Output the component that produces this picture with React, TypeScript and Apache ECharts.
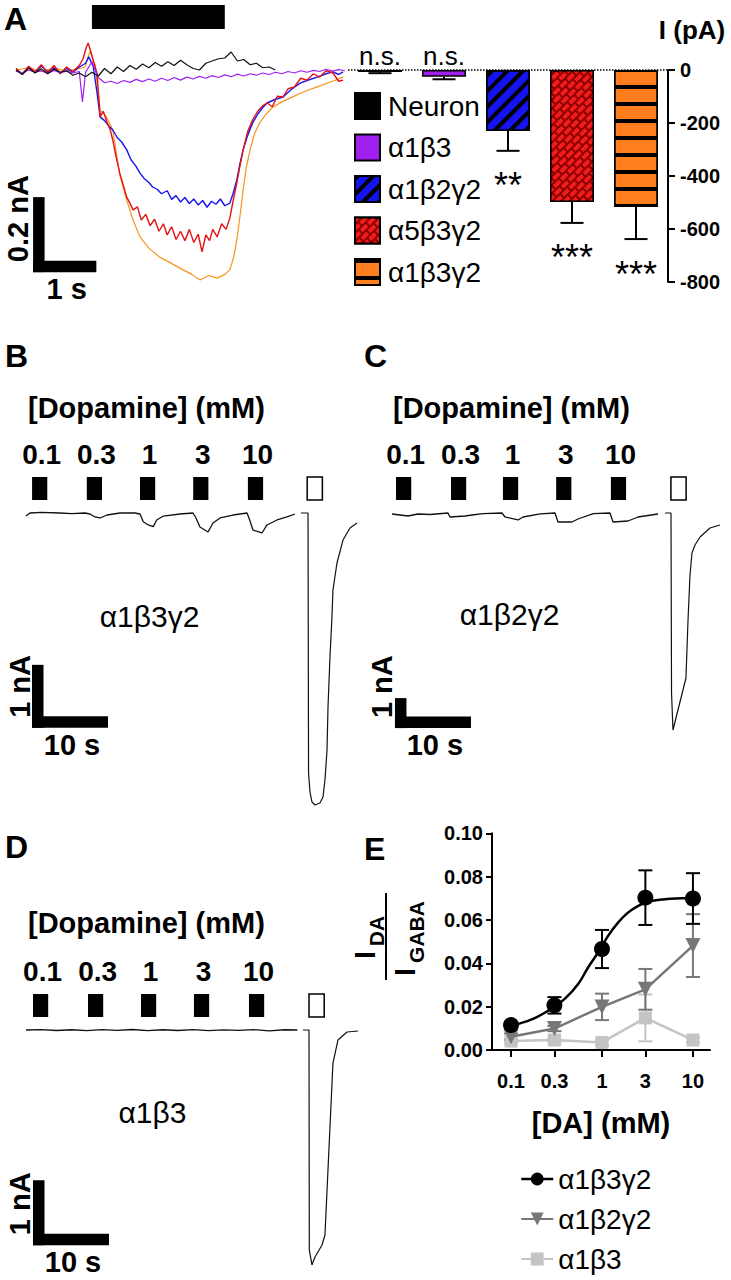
import React, { useEffect, useRef } from "react";
import * as echarts from "echarts";

const FONT = "'Liberation Sans', Arial, Helvetica, sans-serif";

// ---------- Panel A: example traces [time (s), current (pA)] ----------
const traceNeuron = [[0,0],[0.1,-12],[0.2,5],[0.3,-8],[0.4,3],[0.5,-10],[0.6,2],[0.7,-6],[0.8,-2],[0.9,-14],[1.0,-8],[1.1,-18],[1.2,-6],[1.3,-16],[1.4,4],[1.5,-10],[1.6,8],[1.7,-4],[1.8,12],[1.9,2],[2.0,16],[2.1,6],[2.2,20],[2.3,10],[2.4,22],[2.5,12],[2.6,26],[2.7,14],[2.8,4],[2.9,0],[3.0,18],[3.1,24],[3.2,30],[3.3,32],[3.4,48],[3.5,24],[3.6,28],[3.7,14],[3.8,18],[3.9,6],[4.0,8],[4.1,0]];
const traceA1B3 = [[0,-3],[0.1,-8],[0.2,0],[0.3,-6],[0.4,-2],[0.5,-9],[0.6,-1],[0.7,-7],[0.8,-3],[0.9,-8],[1.0,-4],[1.05,-85],[1.1,-6],[1.2,22],[1.3,-20],[1.4,-34],[1.5,-30],[1.6,-36],[1.7,-28],[1.8,-33],[1.9,-25],[2.0,-31],[2.1,-24],[2.2,-30],[2.3,-22],[2.4,-28],[2.5,-20],[2.6,-27],[2.7,-19],[2.8,-24],[2.9,-17],[3.0,-22],[3.1,-15],[3.2,-20],[3.3,-13],[3.4,-18],[3.5,-11],[3.6,-16],[3.7,-10],[3.8,-14],[3.9,-8],[4.0,-12],[4.1,-6],[4.2,-10],[4.3,-4],[4.4,-8],[4.5,-2],[4.6,-6],[4.7,-1],[4.8,-4],[4.9,2],[5.0,-3],[5.1,1],[5.2,-2]];
const traceA1B2G2 = [[0,0],[0.1,-10],[0.2,8],[0.3,-6],[0.4,10],[0.5,-4],[0.6,6],[0.7,-8],[0.8,4],[0.9,-6],[1.0,8],[1.1,18],[1.15,35],[1.22,10],[1.28,-60],[1.33,-125],[1.4,-135],[1.47,-150],[1.53,-160],[1.6,-180],[1.67,-192],[1.75,-213],[1.82,-240],[1.89,-255],[1.96,-275],[2.03,-290],[2.1,-300],[2.16,-312],[2.23,-318],[2.3,-330],[2.39,-322],[2.46,-345],[2.53,-335],[2.6,-352],[2.67,-340],[2.74,-356],[2.81,-344],[2.88,-360],[2.95,-348],[3.02,-366],[3.09,-350],[3.16,-358],[3.23,-344],[3.3,-362],[3.38,-355],[3.43,-330],[3.49,-293],[3.54,-250],[3.59,-213],[3.66,-175],[3.74,-141],[3.82,-118],[3.9,-100],[3.97,-88],[4.1,-78],[4.22,-72],[4.35,-52],[4.49,-35],[4.6,-28],[4.76,-19],[4.9,-10],[5.01,-5],[5.1,-12],[5.17,-5]];
const traceA5B3G2 = [[0,5],[0.1,-12],[0.2,10],[0.3,-5],[0.4,14],[0.5,-8],[0.6,12],[0.7,-10],[0.8,8],[0.9,-4],[1.0,12],[1.06,30],[1.11,60],[1.14,72],[1.18,50],[1.23,20],[1.28,-8],[1.33,-125],[1.38,-110],[1.44,-140],[1.49,-160],[1.53,-187],[1.58,-230],[1.64,-275],[1.7,-310],[1.75,-339],[1.8,-355],[1.85,-373],[1.92,-365],[1.98,-400],[2.05,-385],[2.12,-415],[2.19,-398],[2.26,-430],[2.33,-410],[2.39,-440],[2.46,-418],[2.53,-452],[2.6,-430],[2.67,-455],[2.74,-425],[2.81,-460],[2.88,-438],[2.94,-485],[3.0,-440],[3.06,-455],[3.11,-425],[3.18,-445],[3.25,-410],[3.32,-425],[3.38,-395],[3.43,-350],[3.49,-301],[3.54,-255],[3.59,-213],[3.66,-165],[3.74,-133],[3.82,-110],[3.9,-95],[3.97,-88],[4.05,-98],[4.13,-70],[4.22,-72],[4.3,-50],[4.4,-45],[4.5,-22],[4.6,-27],[4.7,-10],[4.8,-19],[4.9,-2],[5.01,-8],[5.1,-30],[5.17,-27]];
const traceA1B3G2 = [[0,0],[0.2,6],[0.4,-4],[0.6,5],[0.8,-3],[1.0,4],[1.09,8],[1.17,50],[1.25,13],[1.33,-107],[1.43,-125],[1.53,-160],[1.64,-280],[1.75,-347],[1.85,-400],[1.96,-445],[2.1,-475],[2.27,-499],[2.45,-515],[2.64,-533],[2.78,-545],[2.91,-560],[3.05,-548],[3.18,-555],[3.3,-545],[3.38,-533],[3.44,-500],[3.49,-453],[3.54,-390],[3.59,-320],[3.64,-260],[3.7,-213],[3.77,-170],[3.85,-141],[3.95,-118],[4.06,-99],[4.2,-85],[4.33,-75],[4.55,-58],[4.76,-45],[5.0,-30],[5.17,-19]];
const applicationA = [[1.2, 3.3]];
const scaleA = [[0.27, -539, 1, 200]]; // corner t, corner I, 1 s, 200 pA

// ---------- Panel A: mean peak currents ----------
const categories = ["Neuron", "α1β3", "α1β2γ2", "α5β3γ2", "α1β3γ2"];
const barMeans = [-8, -25, -230, -498, -517];
const barSEM = [4, 10, 75, 79, 121];
const barSig = ["n.s.", "n.s.", "**", "***", "***"];
const barTicks = [0, -200, -400, -600, -800];

// ---------- Panels B-D: dopamine applications [time (s), current (nA)] ----------
const concLabels = ["0.1", "0.3", "1", "3", "10"];
const blocksB = [0.8, 8.0, 15.0, 22.0, 29.2];
const gabaB = 37.0;
const blocksC = [0.53, 7.76, 14.6, 21.6, 28.8];
const gabaC = 36.7;
const blocksD = [0.92, 8.16, 15.13, 22.1, 29.34];
const gabaD = 37.24;
const pulseDuration = 2;

const baseB = [[0,-0.048],[0.53,0],[2.0,0.01],[4.47,0],[6.0,-0.01],[7.76,0],[8.42,-0.016],[9.08,-0.063],[9.74,-0.079],[10.66,-0.032],[12.37,0],[14.34,0],[15.0,-0.016],[15.43,-0.138],[16.09,-0.19],[16.75,-0.217],[17.2,-0.111],[18.07,-0.048],[20.26,-0.016],[21.97,0],[22.37,-0.079],[22.89,-0.222],[23.95,-0.302],[24.61,-0.159],[25.53,-0.079],[27.24,-0.032],[29.08,0],[29.34,-0.079],[29.87,-0.27],[31.05,-0.317],[31.71,-0.19],[33.03,-0.111],[34.34,-0.063],[35.39,-0.016]];
const gabaTraceB = [[36.18,0],[37.11,0],[37.18,-4.127],[37.37,-4.429],[37.63,-4.587],[38.03,-4.635],[38.68,-4.603],[39.08,-4.508],[39.34,-4.238],[39.61,-3.762],[39.74,-3.079],[40.0,-2.286],[40.26,-1.651],[40.39,-1.222],[40.92,-0.794],[41.71,-0.429],[42.63,-0.238],[43.55,-0.159]];
const baseC = [[0,-0.033],[2.11,-0.1],[3.42,-0.033],[5.0,-0.05],[7.37,0],[7.63,-0.133],[9.61,-0.1],[10.53,-0.067],[12.0,-0.02],[14.47,0],[14.87,-0.133],[16.58,-0.233],[17.24,-0.133],[19.5,-0.03],[21.45,0],[21.84,-0.3],[23.68,-0.3],[24.47,-0.2],[26.5,-0.02],[28.68,0],[29.08,-0.3],[31.05,-0.267],[32.37,-0.133],[35.0,-0.033]];
const gabaTraceC = [[35.92,0],[36.71,0],[36.78,-6.0],[36.97,-7.233],[38.68,-5.5],[38.95,-3.567],[39.21,-2.067],[39.47,-1.333],[39.87,-1.067],[40.53,-0.8],[41.84,-0.5],[43.16,-0.4]];
const baseD = [[0,0],[2,0.005],[4,-0.008],[6,0.004],[8,-0.01],[10,0.006],[12,-0.006],[14,0.008],[16,-0.01],[18,0.004],[20,-0.008],[22,0.006],[24,-0.01],[26,0.003],[28,-0.006],[30,0.005],[32,-0.012],[34,0.004],[35.7,0]];
const gabaTraceD = [[36.45,0],[37.24,0],[37.28,-3.385],[37.63,-3.615],[38.03,-3.492],[38.95,-3.308],[39.34,-3.154],[40.39,-0.508],[41.05,-0.154],[42.24,-0.031],[43.68,-0.015]];
const scaleB = [[0.79, -3.41, 10, 1]];
const scaleC = [[0.39, -7.17, 10, 1]];
const scaleD = [[0.92, -3.31, 10, 1]];

// ---------- Panel E: concentration-response ----------
const DA = [0.1, 0.3, 1, 3, 10];
const eNames = ["E α1β3γ2", "E α1β2γ2", "E α1β3"];
const eLabels = ["α1β3γ2", "α1β2γ2", "α1β3"];
const ratioA1B3G2 = [0.0115, 0.0206, 0.0466, 0.0703, 0.0699];
const semA1B3G2 = [0.0015, 0.0038, 0.0088, 0.0126, 0.0117];
const ratioA1B2G2 = [0.0061, 0.0099, 0.0199, 0.028, 0.0482];
const semA1B2G2 = [0.0015, 0.0012, 0.0061, 0.0094, 0.0145];
const ratioA1B3 = [0.0041, 0.0046, 0.0035, 0.0148, 0.0046];
const semA1B3 = [0.001, 0.001, 0.001, 0.0108, 0.001];
const fitA1B3G2 = [[0.099,0.0111],[0.169,0.0141],[0.28,0.0191],[0.392,0.0237],[0.55,0.0306],[0.706,0.0382],[0.91,0.0451],[1.172,0.0528],[1.51,0.0589],[1.945,0.0635],[2.506,0.0665],[3.228,0.0685],[4.92,0.0696],[7.52,0.07],[10.07,0.0702]];

const traceColors = ["#111111", "#a020f0", "#1515f2", "#e41212", "#f7941d"];
const barColors = ["#000000", "#a020f0", "#1414f0", "#8e0000", "#ff7f1f"];

const txt = (size: number, bold = false) => ({ fontSize: size, fontWeight: bold ? "bold" : "normal", fontFamily: FONT, fill: "#000" });

function hiddenValueAxis(gridIndex: number, min: number, max: number) {
  return { type: "value", gridIndex, min, max, show: false, splitLine: { show: false } };
}

function traceSeries(name: string, idx: number, data: number[][], color: string, width = 1.2) {
  return {
    name, type: "line", xAxisIndex: idx, yAxisIndex: idx, data, showSymbol: false, symbol: "none",
    silent: true, lineStyle: { color, width }, z: 3,
  };
}

function blockSeries(idx: number, starts: number[], gaba: number) {
  const data = starts.map((s, i) => [s, s + pulseDuration, i]).concat([[gaba, gaba + pulseDuration, -1]]);
  return {
    type: "custom", xAxisIndex: idx, yAxisIndex: idx, silent: true, data,
    renderItem: (params: any, api: any) => {
      const a = api.coord([api.value(0), 0]);
      const b = api.coord([api.value(1), 0]);
      const k = api.value(2);
      const children: any[] = [{
        type: "rect",
        shape: { x: a[0], y: a[1] - 36, width: b[0] - a[0], height: 23 },
        style: k < 0 ? { fill: "#fff", stroke: "#000", lineWidth: 1.5 } : { fill: "#000" },
      }];
      if (k >= 0) {
        children.push({
          type: "text", x: (a[0] + b[0]) / 2 + 2, y: a[1] - 59,
          style: { ...txt(28, true), text: concLabels[k], align: "center", verticalAlign: "middle" },
        });
      }
      return { type: "group", children };
    },
  };
}

function scaleBarSeries(idx: number, data: number[][], vLabel: string, hLabel: string, dx: number) {
  return {
    type: "custom", xAxisIndex: idx, yAxisIndex: idx, silent: true, data,
    renderItem: (params: any, api: any) => {
      const c = api.coord([api.value(0), api.value(1)]);
      const h = api.coord([api.value(0) + api.value(2), api.value(1)]);
      const v = api.coord([api.value(0), api.value(1) + api.value(3)]);
      const th = 11.5;
      return {
        type: "group",
        children: [
          { type: "rect", shape: { x: c[0], y: v[1], width: th, height: c[1] - v[1] }, style: { fill: "#000" } },
          { type: "rect", shape: { x: c[0], y: c[1] - th, width: h[0] - c[0], height: th }, style: { fill: "#000" } },
          { type: "text", x: c[0] + dx, y: c[1] - 10, rotation: Math.PI / 2,
            style: { ...txt(29, true), text: vLabel, align: "left", verticalAlign: "middle" } },
          { type: "text", x: (c[0] + h[0]) / 2 + 2, y: c[1] + 17,
            style: { ...txt(29, true), text: hLabel, align: "center", verticalAlign: "middle" } },
        ],
      };
    },
  };
}

function errorSeriesE(name: string, values: number[], sems: number[], color: string) {
  return {
    name: name + " sem", type: "custom", xAxisIndex: 5, yAxisIndex: 5, silent: true, z: 4,
    data: DA.map((d, i) => [d, values[i] - sems[i], values[i] + sems[i]]),
    renderItem: (params: any, api: any) => {
      const lo = api.coord([api.value(0), api.value(1)]);
      const hi = api.coord([api.value(0), api.value(2)]);
      const st = { stroke: color, lineWidth: 2 };
      return {
        type: "group",
        children: [
          { type: "line", shape: { x1: lo[0], y1: lo[1], x2: hi[0], y2: hi[1] }, style: st },
          { type: "line", shape: { x1: lo[0] - 7, y1: lo[1], x2: lo[0] + 7, y2: lo[1] }, style: st },
          { type: "line", shape: { x1: hi[0] - 7, y1: hi[1], x2: hi[0] + 7, y2: hi[1] }, style: st },
        ],
      };
    },
  };
}

const decals: any[] = [
  null,
  null,
  { symbol: "rect", symbolSize: 1, symbolKeepAspect: false, color: "#000", dashArrayX: [1, 0], dashArrayY: [3.5, 7], rotation: -Math.PI / 4 },
  { symbol: "rect", symbolSize: 1, symbolKeepAspect: false, color: "#f21c1c", dashArrayX: [[8, 2], [3, 2, 5, 0]], dashArrayY: [4, 1.5], rotation: -Math.PI / 4 },
  { symbol: "rect", symbolSize: 1, symbolKeepAspect: false, color: "#000", dashArrayX: [1, 0], dashArrayY: [4, 13], rotation: 0 },
];

function buildOption() {
  const barSeries = categories.map((c, i) => ({
    name: c, type: "bar", xAxisIndex: 1, yAxisIndex: 1, barWidth: 44, barGap: "-100%",
    data: categories.map((_, j) => (j === i ? barMeans[i] : "-")),
    itemStyle: { color: barColors[i], borderColor: "#000", borderWidth: 1.5, ...(decals[i] ? { decal: decals[i] } : {}) },
    silent: true, z: 2,
    ...(i === 0 ? {
      markLine: {
        silent: true, symbol: ["none", "none"], label: { show: false },
        lineStyle: { type: "dotted", color: "#000", width: 1.5 },
        data: [{ yAxis: 0 }], z: 5,
      },
    } : {}),
  }));

  const barErrors = {
    type: "custom", xAxisIndex: 1, yAxisIndex: 1, silent: true, z: 4,
    data: categories.map((_, i) => [i, barMeans[i], barSEM[i]]),
    renderItem: (params: any, api: any) => {
      const m = api.coord([api.value(0), api.value(1)]);
      const e = api.coord([api.value(0), api.value(1) - api.value(2)]);
      const z0 = api.coord([api.value(0), 0]);
      const st = { stroke: "#000", lineWidth: 2 };
      const sig = barSig[params.dataIndex];
      const ns = sig === "n.s.";
      return {
        type: "group",
        children: [
          { type: "line", shape: { x1: m[0], y1: m[1], x2: e[0], y2: e[1] }, style: st },
          { type: "line", shape: { x1: e[0] - 11.5, y1: e[1], x2: e[0] + 11.5, y2: e[1] }, style: st },
          { type: "text", x: m[0], y: ns ? z0[1] - 14 : e[1] + 35,
            style: { ...txt(ns ? 26 : 36), text: sig, align: "center", verticalAlign: "middle" } },
        ],
      };
    },
  };

  return {
    animation: false,
    backgroundColor: "#fff",
    grid: [
      { left: 16, top: 2.5, width: 329, height: 292.5 },      // A traces
      { left: 348, top: 70, width: 320, height: 212 },        // A bars
      { left: 26, top: 450, width: 339.7, height: 365.4 },    // B
      { left: 392, top: 453, width: 334.4, height: 288 },     // C
      { left: 26, top: 965, width: 339.7, height: 312 },      // D
      { left: 492, top: 833.3, width: 218, height: 216.7 },   // E
    ],
    xAxis: [
      hiddenValueAxis(0, 0, 5.2),
      { type: "category", gridIndex: 1, data: categories, show: false },
      hiddenValueAxis(2, 0, 44.7),
      hiddenValueAxis(3, 0, 44),
      hiddenValueAxis(4, 0, 44.7),
      {
        type: "log", gridIndex: 5, logBase: 10, min: 0.0618, max: 15.4,
        name: "[DA] (mM)", nameLocation: "middle", nameGap: 58,
        nameTextStyle: { fontSize: 29, fontWeight: "bold", fontFamily: FONT, color: "#000" },
        axisLine: { show: true, onZero: false, lineStyle: { color: "#000", width: 2 } },
        axisTick: { show: true, length: 7, customValues: DA, lineStyle: { color: "#000", width: 2 } },
        axisLabel: { customValues: DA, margin: 21, fontSize: 20, fontWeight: "bold", fontFamily: FONT, color: "#000",
          formatter: (v: number) => concLabels[DA.indexOf(v)] ?? String(v) },
        splitLine: { show: false }, minorTick: { show: false }, minorSplitLine: { show: false },
      },
    ],
    yAxis: [
      hiddenValueAxis(0, -600, 180),
      {
        type: "value", gridIndex: 1, position: "right", min: -800, max: 0, interval: 200,
        name: "I (pA)", nameLocation: "end", nameGap: 27,
        nameTextStyle: { fontSize: 26, fontWeight: "bold", fontFamily: FONT, color: "#000", align: "center", padding: [0, 0, 0, 48] },
        axisLine: { show: true, lineStyle: { color: "#000", width: 2 } },
        axisTick: { show: true, length: 7, lineStyle: { color: "#000", width: 2 } },
        axisLabel: { margin: 12, fontSize: 20, fontWeight: "bold", fontFamily: FONT, color: "#000",
          formatter: (v: number) => String(barTicks[barTicks.indexOf(v)] ?? v) },
        splitLine: { show: false },
      },
      hiddenValueAxis(2, -4.8, 1.0),
      hiddenValueAxis(3, -7.6, 2.0),
      hiddenValueAxis(4, -3.8, 1.0),
      {
        type: "value", gridIndex: 5, min: 0, max: 0.1, interval: 0.02,
        axisLine: { show: true, onZero: false, lineStyle: { color: "#000", width: 2 } },
        axisTick: { show: true, length: 6, lineStyle: { color: "#000", width: 2 } },
        axisLabel: { margin: 9, fontSize: 20, fontWeight: "bold", fontFamily: FONT, color: "#000",
          formatter: (v: number) => v.toFixed(2) },
        splitLine: { show: false },
      },
    ],
    legend: [
      {
        data: categories, orient: "vertical", left: 349, top: 87, itemWidth: 25, itemHeight: 26, itemGap: 13.5,
        icon: "rect", selectedMode: false,
        textStyle: { fontSize: 28, fontFamily: FONT, color: "#000", lineHeight: 28, padding: [0, 0, 0, 3] },
      },
      {
        data: [
          { name: eNames[0], lineStyle: { width: 2.5, color: "#000", opacity: 1 } },
          { name: eNames[1] },
          { name: eNames[2] },
        ],
        formatter: (n: string) => eLabels[eNames.indexOf(n)],
        orient: "vertical", left: 515, top: 1160, width: 200, height: 118,
        itemWidth: 32, itemHeight: 16, itemGap: 12, selectedMode: false,
        textStyle: { fontSize: 28, fontFamily: FONT, color: "#000", lineHeight: 28 },
      },
    ],
    graphic: [
      { type: "text", x: 4, y: 19, style: { ...txt(32, true), text: "A", align: "left", verticalAlign: "middle" } },
      { type: "text", x: 5, y: 356, style: { ...txt(32, true), text: "B", align: "left", verticalAlign: "middle" } },
      { type: "text", x: 364, y: 356, style: { ...txt(32, true), text: "C", align: "left", verticalAlign: "middle" } },
      { type: "text", x: 5, y: 847, style: { ...txt(32, true), text: "D", align: "left", verticalAlign: "middle" } },
      { type: "text", x: 364, y: 849, style: { ...txt(32, true), text: "E", align: "left", verticalAlign: "middle" } },
      { type: "text", x: 28, y: 408, style: { ...txt(29, true), text: "[Dopamine] (mM)", align: "left", verticalAlign: "middle" } },
      { type: "text", x: 393, y: 408, style: { ...txt(29, true), text: "[Dopamine] (mM)", align: "left", verticalAlign: "middle" } },
      { type: "text", x: 28, y: 923, style: { ...txt(29, true), text: "[Dopamine] (mM)", align: "left", verticalAlign: "middle" } },
      { type: "text", x: 149.5, y: 616, style: { ...txt(30), text: "α1β3γ2", align: "center", verticalAlign: "middle" } },
      { type: "text", x: 509.5, y: 614, style: { ...txt(30), text: "α1β2γ2", align: "center", verticalAlign: "middle" } },
      { type: "text", x: 152.5, y: 1112, style: { ...txt(30), text: "α1β3", align: "center", verticalAlign: "middle" } },
      // E y-axis title: I_DA / I_GABA
      { type: "text", x: 365, y: 955, rotation: Math.PI / 2, style: { ...txt(29, true), text: "I", align: "center", verticalAlign: "middle" } },
      { type: "text", x: 376, y: 931, rotation: Math.PI / 2, style: { ...txt(21, true), text: "DA", align: "center", verticalAlign: "middle" } },
      { type: "line", shape: { x1: 386, y1: 893, x2: 386, y2: 980 }, style: { stroke: "#000", lineWidth: 2 } },
      { type: "text", x: 405, y: 972, rotation: Math.PI / 2, style: { ...txt(29, true), text: "I", align: "center", verticalAlign: "middle" } },
      { type: "text", x: 416, y: 932, rotation: Math.PI / 2, style: { ...txt(21, true), text: "GABA", align: "center", verticalAlign: "middle" } },
    ],
    series: [
      // A traces
      traceSeries("trace α1β3γ2", 0, traceA1B3G2, traceColors[4]),
      traceSeries("trace α1β2γ2", 0, traceA1B2G2, traceColors[2], 1.4),
      traceSeries("trace α5β3γ2", 0, traceA5B3G2, traceColors[3], 1.4),
      traceSeries("trace α1β3", 0, traceA1B3, traceColors[1]),
      traceSeries("trace Neuron", 0, traceNeuron, traceColors[0]),
      {
        type: "custom", xAxisIndex: 0, yAxisIndex: 0, silent: true, data: applicationA,
        renderItem: (params: any, api: any) => {
          const a = api.coord([api.value(0), 0]);
          const b = api.coord([api.value(1), 0]);
          return { type: "rect", shape: { x: a[0], y: a[1] - 65, width: b[0] - a[0], height: 24 }, style: { fill: "#000" } };
        },
      },
      scaleBarSeries(0, scaleA, "0.2 nA", "1 s", -15),
      // A bars
      ...barSeries,
      barErrors,
      // B
      traceSeries("trace B base", 2, baseB, "#111", 1.3),
      traceSeries("trace B gaba", 2, gabaTraceB, "#111", 1.2),
      blockSeries(2, blocksB, gabaB),
      scaleBarSeries(2, scaleB, "1 nA", "10 s", -12),
      // C
      traceSeries("trace C base", 3, baseC, "#111", 1.3),
      traceSeries("trace C gaba", 3, gabaTraceC, "#111", 1.2),
      blockSeries(3, blocksC, gabaC),
      scaleBarSeries(3, scaleC, "1 nA", "10 s", -13),
      // D
      traceSeries("trace D base", 4, baseD, "#111", 1.3),
      traceSeries("trace D gaba", 4, gabaTraceD, "#111", 1.2),
      blockSeries(4, blocksD, gabaD),
      scaleBarSeries(4, scaleD, "1 nA", "10 s", -13),
      // E
      {
        name: "fit", type: "line", xAxisIndex: 5, yAxisIndex: 5, data: fitA1B3G2, smooth: 0.4,
        showSymbol: false, symbol: "none", silent: true, z: 3, lineStyle: { color: "#000", width: 2.5 },
      },
      errorSeriesE(eNames[2], ratioA1B3, semA1B3, "#c4c4c4"),
      errorSeriesE(eNames[1], ratioA1B2G2, semA1B2G2, "#777"),
      errorSeriesE(eNames[0], ratioA1B3G2, semA1B3G2, "#000"),
      {
        name: eNames[2], type: "line", xAxisIndex: 5, yAxisIndex: 5, data: DA.map((d, i) => [d, ratioA1B3[i]]),
        symbol: "rect", symbolSize: 13, showSymbol: true, silent: true, z: 5,
        itemStyle: { color: "#c4c4c4" }, lineStyle: { color: "#c4c4c4", width: 2.5 },
      },
      {
        name: eNames[1], type: "line", xAxisIndex: 5, yAxisIndex: 5, data: DA.map((d, i) => [d, ratioA1B2G2[i]]),
        symbol: "triangle", symbolRotate: 180, symbolSize: 15, showSymbol: true, silent: true, z: 6,
        itemStyle: { color: "#777" }, lineStyle: { color: "#777", width: 2.5 },
      },
      {
        name: eNames[0], type: "line", xAxisIndex: 5, yAxisIndex: 5, data: DA.map((d, i) => [d, ratioA1B3G2[i]]),
        symbol: "circle", symbolSize: 16, showSymbol: true, silent: true, z: 7,
        itemStyle: { color: "#000" }, lineStyle: { width: 0, opacity: 0 },
      },
    ],
  };
}

export default function App() {
  const ref = useRef<HTMLDivElement>(null);
  useEffect(() => {
    document.body.style.margin = "0";
    const chart = echarts.init(ref.current as HTMLDivElement, null, { renderer: "svg", width: 731, height: 1280 });
    chart.setOption(buildOption() as any);
    return () => chart.dispose();
  }, []);
  return <div ref={ref} style={{ width: 731, height: 1280, background: "#fff" }} />;
}
